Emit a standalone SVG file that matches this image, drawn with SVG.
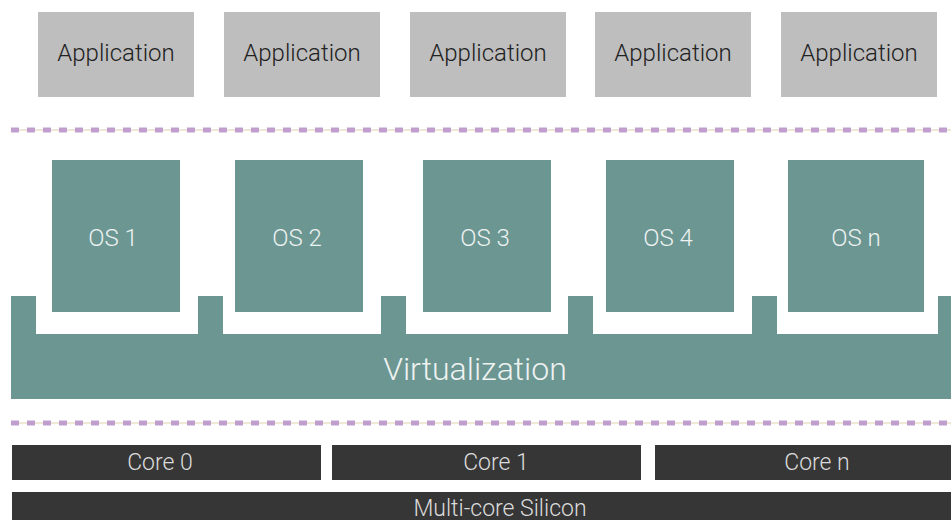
<svg xmlns="http://www.w3.org/2000/svg" width="951" height="520" viewBox="0 0 951 520">
<style>
text{font-family:"Roboto Light",Roboto,"Liberation Sans",sans-serif;font-weight:300;text-anchor:middle}
.app rect{fill:#bebebe}
.app text{fill:#222;font-size:24px}
.os rect{fill:#6b9692}
.os text{fill:#eef2f1;font-size:24px}
.core rect{fill:#363636}
.core text{fill:#dcdcdc;font-size:23px}
.sep{stroke:#eadfc9;stroke-width:1.5}
.dash{stroke:#c09fcf;stroke-width:5;stroke-dasharray:8 8}
</style>
<rect width="951" height="520" fill="#fff"/>
<g id="app1" class="app"><rect x="38" y="12" width="156" height="85"/><text x="116" y="61">Application</text></g>
<g id="app2" class="app"><rect x="224" y="12" width="156" height="85"/><text x="302" y="61">Application</text></g>
<g id="app3" class="app"><rect x="410" y="12" width="156" height="85"/><text x="488" y="61">Application</text></g>
<g id="app4" class="app"><rect x="595" y="12" width="156" height="85"/><text x="673" y="61">Application</text></g>
<g id="app5" class="app"><rect x="781" y="12" width="156" height="85"/><text x="859" y="61">Application</text></g>
<g id="separators">
<line class="sep" x1="11" y1="130" x2="951" y2="130"/>
<line class="dash" x1="11" y1="130" x2="951" y2="130"/>
<line class="sep" x1="11" y1="423" x2="951" y2="423"/>
<line class="dash" x1="11" y1="423" x2="951" y2="423"/>
</g>
<g id="os1" class="os"><rect x="52" y="160" width="128" height="152"/><text x="113" y="246">OS 1</text></g>
<g id="os2" class="os"><rect x="235" y="160" width="128" height="152"/><text x="297" y="246">OS 2</text></g>
<g id="os3" class="os"><rect x="423" y="160" width="128" height="152"/><text x="485" y="246">OS 3</text></g>
<g id="os4" class="os"><rect x="606" y="160" width="128" height="152"/><text x="668" y="246">OS 4</text></g>
<g id="osn" class="os"><rect x="788" y="160" width="136" height="152"/><text x="856" y="246">OS n</text></g>
<g id="virtualization" class="os">
<path fill="#6b9692" d="M11 296H36V334H198V296H223V334H381V296H406V334H568V296H593V334H752V296H777V334H938V296H951V399H11Z"/>
<text x="475" y="380" style="font-size:32px">Virtualization</text>
</g>
<g id="core0" class="core"><rect x="12" y="445" width="309" height="35"/><text x="160" y="470">Core 0</text></g>
<g id="core1" class="core"><rect x="332" y="445" width="309" height="35"/><text x="496" y="470">Core 1</text></g>
<g id="coren" class="core"><rect x="655" y="445" width="296" height="35"/><text x="817" y="470">Core n</text></g>
<g id="silicon" class="core"><rect x="12" y="492" width="939" height="28"/><text x="500" y="516" style="font-size:23px">Multi-core Silicon</text></g>
</svg>
